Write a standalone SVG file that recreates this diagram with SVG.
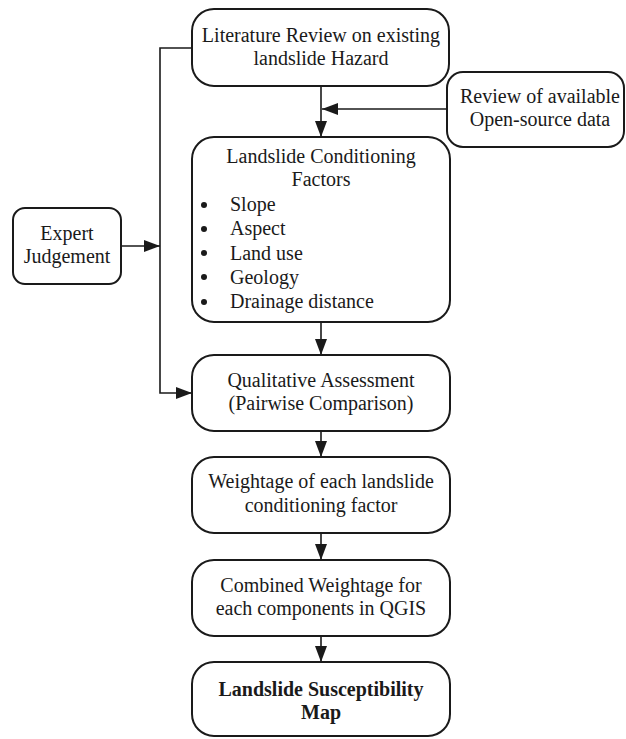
<svg xmlns="http://www.w3.org/2000/svg" width="626" height="739" viewBox="0 0 626 739">
<defs>
<style>
.box{fill:#fff;stroke:#1a1a1a;stroke-width:2}
.t{font-family:"Liberation Serif","Times New Roman",serif;font-size:20px;fill:#1a1a1a;text-anchor:middle}
.tl{font-family:"Liberation Serif","Times New Roman",serif;font-size:20px;fill:#1a1a1a}
.b{font-weight:bold}
.ln{fill:none;stroke:#1a1a1a;stroke-width:1.6}
</style>
<marker id="ah" viewBox="0 0 16 12" refX="16" refY="6" markerWidth="16" markerHeight="12" markerUnits="userSpaceOnUse" orient="auto">
<path d="M0,0 L16,6 L0,12 Z" fill="#1a1a1a"/>
</marker>
</defs>
<rect width="626" height="739" fill="#fff"/>
<g id="connectors">
<line class="ln" x1="321" y1="86" x2="321" y2="137" marker-end="url(#ah)"/>
<line class="ln" x1="447" y1="109" x2="322" y2="109" marker-end="url(#ah)"/>
<polyline class="ln" points="192,48 160,48 160,393 192,393" marker-end="url(#ah)"/>
<line class="ln" x1="121" y1="246" x2="160" y2="246" marker-end="url(#ah)"/>
<line class="ln" x1="321" y1="322" x2="321" y2="355" marker-end="url(#ah)"/>
<line class="ln" x1="321" y1="431" x2="321" y2="457" marker-end="url(#ah)"/>
<line class="ln" x1="321" y1="533" x2="321" y2="560" marker-end="url(#ah)"/>
<line class="ln" x1="321" y1="636" x2="321" y2="662" marker-end="url(#ah)"/>
</g>
<g id="literature">
<rect class="box" x="192" y="9" width="257" height="77" rx="22"/>
<text class="t" x="321" y="42">Literature Review on existing</text>
<text class="t" x="321" y="65">landslide Hazard</text>
</g>
<g id="review">
<rect class="box" x="447" y="72" width="177" height="75" rx="16"/>
<text class="t" x="540" y="103">Review of available</text>
<text class="t" x="540" y="126">Open-source data</text>
</g>
<g id="expert">
<rect class="box" x="13" y="208" width="108" height="76" rx="12"/>
<text class="t" x="67" y="240">Expert</text>
<text class="t" x="67" y="263">Judgement</text>
</g>
<g id="conditioning">
<rect class="box" x="192" y="137" width="258" height="185" rx="22"/>
<text class="t" x="321" y="163">Landslide Conditioning</text>
<text class="t" x="321" y="186">Factors</text>
<circle cx="204" cy="205" r="3" fill="#1a1a1a"/>
<circle cx="204" cy="229" r="3" fill="#1a1a1a"/>
<circle cx="204" cy="253" r="3" fill="#1a1a1a"/>
<circle cx="204" cy="277" r="3" fill="#1a1a1a"/>
<circle cx="204" cy="302" r="3" fill="#1a1a1a"/>
<text class="tl" x="230" y="211">Slope</text>
<text class="tl" x="230" y="235">Aspect</text>
<text class="tl" x="230" y="260">Land use</text>
<text class="tl" x="230" y="284">Geology</text>
<text class="tl" x="230" y="308">Drainage distance</text>
</g>
<g id="qualitative">
<rect class="box" x="192" y="355" width="258" height="76" rx="22"/>
<text class="t" x="321" y="387">Qualitative Assessment</text>
<text class="t" x="321" y="410">(Pairwise Comparison)</text>
</g>
<g id="weightage">
<rect class="box" x="192" y="457" width="258" height="76" rx="22"/>
<text class="t" x="321" y="488">Weightage of each landslide</text>
<text class="t" x="321" y="512">conditioning factor</text>
</g>
<g id="combined">
<rect class="box" x="192" y="560" width="258" height="76" rx="22"/>
<text class="t" x="321" y="592">Combined Weightage for</text>
<text class="t" x="321" y="615">each components in QGIS</text>
</g>
<g id="susceptibility">
<rect class="box" x="192" y="662" width="258" height="74" rx="22"/>
<text class="t b" x="321" y="696">Landslide Susceptibility</text>
<text class="t b" x="321" y="719">Map</text>
</g>
</svg>
